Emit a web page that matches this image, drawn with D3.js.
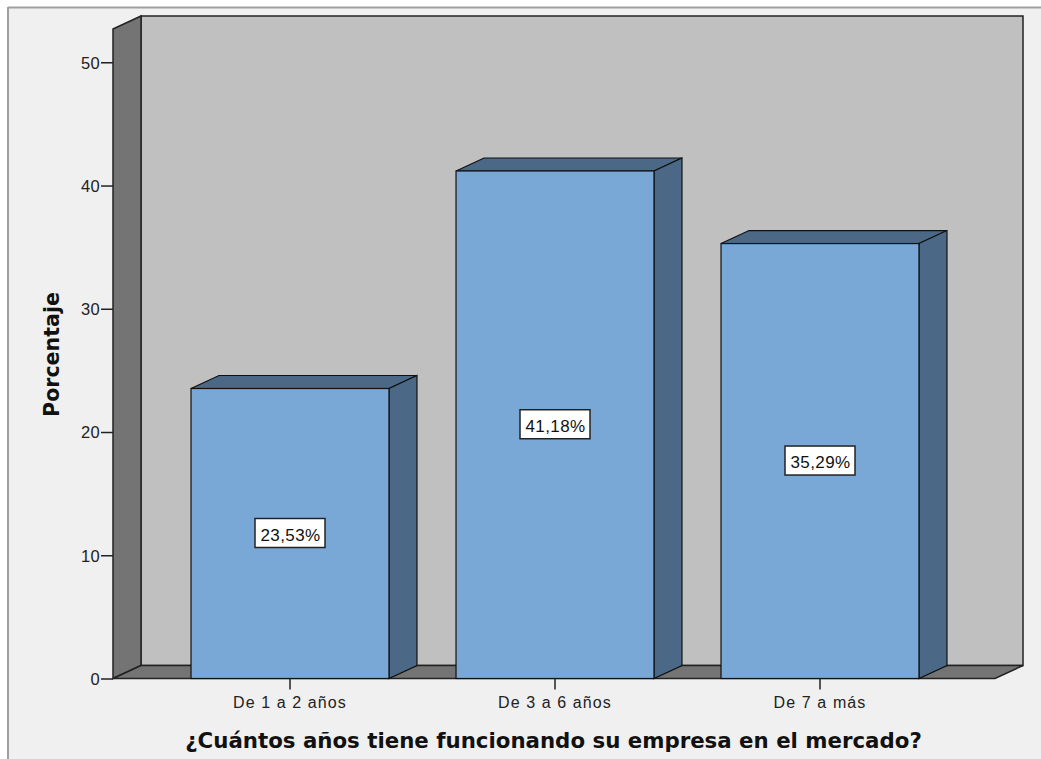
<!DOCTYPE html>
<html><head><meta charset="utf-8">
<script src="https://cdn.jsdelivr.net/npm/d3@7"></script>
<style>body{margin:0;background:#fff}svg{display:block}</style>
</head><body><svg id="c" width="1041" height="759"></svg>
<script>
const categories = ["De 1 a 2 años", "De 3 a 6 años", "De 7 a más"];
const values = [23.53, 41.18, 35.29];
const valueLabels = ["23,53%", "41,18%", "35,29%"];
const yTicks = [0, 10, 20, 30, 40, 50];
const yTitle = "Porcentaje";
const xTitle = "¿Cuántos años tiene funcionando su empresa en el mercado?";

const svg = d3.select("#c");
const font = "'Liberation Sans', Arial, sans-serif";
const boldFont = "'DejaVu Sans', Verdana, sans-serif";
const dx = 28, dy = 13;
const x0 = 113, x1 = 995;
const y = d3.scaleLinear().domain([0, 52.7]).range([678.5, 29]);
const x = d3.scaleBand().domain(categories).range([157.5, 952.5]).paddingInner(0.253).paddingOuter(0.1265);

// window background + border
svg.append("rect").attr("x", 8).attr("y", 7).attr("width", 1033).attr("height", 752).attr("fill", "#f0f0f0");
svg.append("line").attr("x1", 8).attr("x2", 1041).attr("y1", 7.5).attr("y2", 7.5).attr("stroke", "#a0a0a0").attr("stroke-width", 2);
svg.append("line").attr("x1", 8).attr("x2", 8).attr("y1", 7).attr("y2", 759).attr("stroke", "#a0a0a0").attr("stroke-width", 2);

const yb = y(0), yt = y(52.7);
// back wall
svg.append("rect").attr("x", x0 + dx).attr("y", yt - dy).attr("width", x1 - x0).attr("height", yb - yt)
  .attr("fill", "#c0c0c0").attr("stroke", "#222").attr("stroke-width", 1.5);
// left wall
svg.append("polygon").attr("points", [[x0, yt], [x0 + dx, yt - dy], [x0 + dx, yb - dy], [x0, yb]].join(" "))
  .attr("fill", "#747474").attr("stroke", "#222").attr("stroke-width", 1.5);
// floor
svg.append("polygon").attr("points", [[x0, yb], [x0 + dx, yb - dy], [x1 + dx, yb - dy], [x1, yb]].join(" "))
  .attr("fill", "#747474").attr("stroke", "#222").attr("stroke-width", 1.5);

// bars
const g = svg.append("g");
categories.forEach((c, i) => {
  const bx = x(c), bw = x.bandwidth(), top = y(values[i]);
  g.append("polygon").attr("points", [[bx, top], [bx + dx, top - dy], [bx + bw + dx, top - dy], [bx + bw, top]].join(" "))
    .attr("fill", "#4b6886").attr("stroke", "#111").attr("stroke-width", 1.2);
  g.append("polygon").attr("points", [[bx + bw, top], [bx + bw + dx, top - dy], [bx + bw + dx, yb - dy], [bx + bw, yb]].join(" "))
    .attr("fill", "#4b6886").attr("stroke", "#111").attr("stroke-width", 1.2);
  g.append("rect").attr("x", bx).attr("y", top).attr("width", bw).attr("height", yb - top)
    .attr("fill", "#79a8d6").attr("stroke", "#111").attr("stroke-width", 1.2);
  // label
  const cx = bx + bw / 2, cy = (top + yb) / 2;
  g.append("rect").attr("x", cx - 35).attr("y", cy - 15).attr("width", 70).attr("height", 29)
    .attr("fill", "#fff").attr("stroke", "#222").attr("stroke-width", 1.5);
  g.append("text").attr("x", cx + 0.5).attr("y", cy + 7).attr("text-anchor", "middle")
    .attr("font-family", font).attr("font-size", 17).attr("letter-spacing", 0.4).attr("fill", "#111").text(valueLabels[i]);
});

// y axis
const ya = svg.append("g").attr("transform", `translate(${x0},0)`)
  .call(d3.axisLeft(y).tickValues(yTicks).tickSize(12).tickPadding(1));
ya.select(".domain").remove();
ya.selectAll("line").attr("stroke", "#222").attr("stroke-width", 1.5);
ya.selectAll("text").attr("font-family", font).attr("font-size", 16.5).attr("letter-spacing", 0.3).attr("fill", "#222").attr("dy", "0.36em");

// x axis
const xa = svg.append("g").attr("transform", `translate(0,${yb})`)
  .call(d3.axisBottom(x).tickSize(11).tickPadding(1));
xa.select(".domain").remove();
xa.selectAll("line").attr("stroke", "#222").attr("stroke-width", 1.5);
xa.selectAll("text").attr("font-family", font).attr("font-size", 16).attr("letter-spacing", 1.1)
  .attr("fill", "#222").attr("dy", null).attr("y", 29.5);

// titles sized to the reference widths
function fit(sel, target) {
  const w = sel.node().getComputedTextLength();
  const fs = +sel.attr("font-size");
  sel.attr("font-size", fs * target / w);
}
const yt_ = svg.append("text").attr("transform", "translate(59,354.5) rotate(-90)").attr("text-anchor", "middle")
  .attr("font-family", boldFont).attr("font-size", 18).attr("font-weight", "bold").attr("fill", "#111").text(yTitle);
fit(yt_, 125);
const xt_ = svg.append("text").attr("x", 553.5).attr("y", 748).attr("text-anchor", "middle")
  .attr("font-family", boldFont).attr("font-size", 18).attr("font-weight", "bold").attr("fill", "#111").text(xTitle);
fit(xt_, 737);
</script></body></html>
